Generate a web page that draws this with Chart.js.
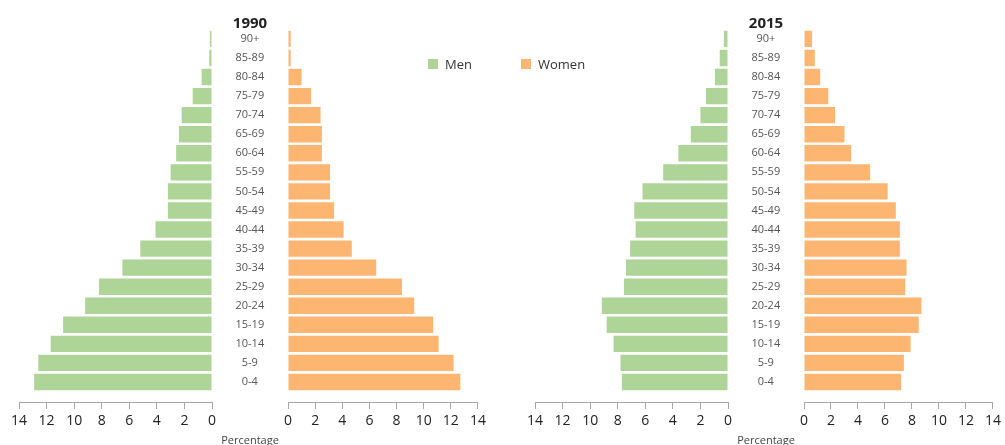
<!DOCTYPE html>
<html>
<head>
<meta charset="utf-8">
<script src="https://cdn.jsdelivr.net/npm/chart.js@4/dist/chart.umd.min.js"></script>
<style>
    body { margin: 0; background: #fff; font-family: "Open Sans", sans-serif; }
    #wrap { position: relative; width: 1005px; height: 445px; overflow: hidden; }
    canvas { position: absolute; top: 0; }
    .year { position: absolute; top: 12px; width: 80px; text-align: center; font-weight: bold; font-size: 15px; color: #222; }
    .pct { position: absolute; top: 432px; width: 100px; text-align: center; font-size: 11px; color: #444; }
    .legend { position: absolute; top: 55px; font-size: 13px; color: #333; display: flex; align-items: center; }
    .legend span.box { display: inline-block; width: 10px; height: 10px; margin-right: 7px; }
</style>
</head>
<body>
<div id="wrap">
    <canvas id="men-1990" width="288" height="445" style="left:0px"></canvas>
    <canvas id="women-1990" width="240" height="445" style="left:250px"></canvas>
    <canvas id="men-2015" width="288" height="445" style="left:516px"></canvas>
    <canvas id="women-2015" width="239" height="445" style="left:766px"></canvas>

    <div class="year" style="left:210px">1990</div>
    <div class="year" style="left:726px">2015</div>
    <div class="pct" style="left:200px">Percentage</div>
    <div class="pct" style="left:716px">Percentage</div>

    <div class="legend" style="left:428px"><span class="box" style="background:#aed597"></span>Men</div>
    <div class="legend" style="left:521px"><span class="box" style="background:#fcb672"></span>Women</div>
</div>
<script>
// Age groups, bottom to top
const ageGroups = ['0-4', '5-9', '10-14', '15-19', '20-24', '25-29', '30-34', '35-39', '40-44',
    '45-49', '50-54', '55-59', '60-64', '65-69', '70-74', '75-79', '80-84', '85-89', '90+'];

// Percentages of population
const men1990 = [12.9, 12.6, 11.7, 10.8, 9.2, 8.2, 6.5, 5.2, 4.1, 3.2, 3.2, 3.0, 2.6, 2.4, 2.2, 1.4, 0.75, 0.2, 0.15];
const women1990 = [12.7, 12.2, 11.1, 10.7, 9.3, 8.4, 6.5, 4.7, 4.1, 3.4, 3.1, 3.1, 2.5, 2.5, 2.4, 1.7, 1.0, 0.2, 0.2];
const men2015 = [7.7, 7.8, 8.3, 8.8, 9.15, 7.55, 7.4, 7.1, 6.7, 6.8, 6.2, 4.7, 3.6, 2.7, 2.0, 1.6, 0.95, 0.6, 0.3];
const women2015 = [7.2, 7.4, 7.9, 8.5, 8.7, 7.5, 7.6, 7.1, 7.1, 6.8, 6.2, 4.9, 3.5, 3.0, 2.3, 1.8, 1.2, 0.8, 0.6];

const xTicks = [0, 2, 4, 6, 8, 10, 12, 14];

const MEN_COLOR = '#aed597';
const WOMEN_COLOR = '#fcb672';

function renderHalf(canvasId, values, color, isMen) {
    const ctx = document.getElementById(canvasId).getContext('2d');

    new Chart(ctx, {
        type: 'bar',
        data: {
            datasets: [{
                label: isMen ? 'Men' : 'Women',
                data: values.map((v, i) => ({ x: v, y: i })),
                backgroundColor: color,
                borderWidth: 0,
                barPercentage: 0.86,
                categoryPercentage: 1
            }]
        },
        options: {
            indexAxis: 'y',
            responsive: false,
            animation: false,
            layout: {
                padding: isMen
                    ? { left: 19, right: 0, top: 29.4, bottom: 0 }
                    : { left: 38, right: 10, top: 29.4, bottom: 0 }
            },
            scales: {
                x: {
                    type: 'linear',
                    min: 0,
                    max: 14,
                    reverse: isMen,
                    afterFit: scale => { scale.height = 43; },
                    afterBuildTicks: scale => { scale.ticks = xTicks.map(v => ({ value: v })); },
                    grid: {
                        drawOnChartArea: false,
                        drawTicks: true,
                        tickLength: 7,
                        color: '#a6a6a6'
                    },
                    border: { display: true, color: '#a6a6a6' },
                    ticks: {
                        padding: 4,
                        maxRotation: 0,
                        autoSkip: false,
                        color: '#222',
                        font: { family: 'Open Sans', size: 14 }
                    }
                },
                y: {
                    type: 'linear',
                    display: isMen,
                    position: 'right',
                    offset: false,
                    min: -1.05,
                    max: 18.5,
                    afterBuildTicks: scale => { scale.ticks = ageGroups.map((a, i) => ({ value: i })); },
                    afterFit: scale => {
                        scale.width = isMen ? 76 : 0;
                        scale.paddingTop = 0;
                        scale.paddingBottom = 0;
                    },
                    grid: { display: false, drawTicks: false },
                    border: { display: false },
                    ticks: {
                        autoSkip: false,
                        crossAlign: 'center',
                        padding: 23.5,
                        color: '#555',
                        font: { family: 'Open Sans', size: 11 },
                        callback: v => ageGroups[v]
                    }
                }
            },
            plugins: {
                legend: { display: false },
                tooltip: { enabled: false }
            }
        }
    });
}

renderHalf('men-1990', men1990, MEN_COLOR, true);
renderHalf('women-1990', women1990, WOMEN_COLOR, false);
renderHalf('men-2015', men2015, MEN_COLOR, true);
renderHalf('women-2015', women2015, WOMEN_COLOR, false);
</script>
</body>
</html>
